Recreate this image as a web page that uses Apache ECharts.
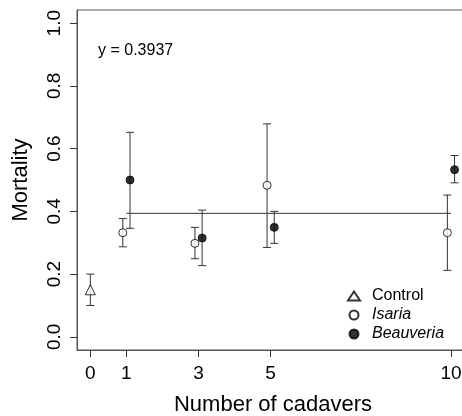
<!DOCTYPE html>
<html><head><meta charset="utf-8">
<script src="https://cdn.jsdelivr.net/npm/echarts@6/dist/echarts.min.js"></script>
<style>html,body{margin:0;padding:0;background:#fff}#c{width:462px;height:416px}</style>
</head><body><div id="c"></div>
<script>
var xTicks = [0, 1, 3, 5, 10];
var yTicks = [0, 0.2, 0.4, 0.6, 0.8, 1.0];
var controlX = [0];
var controlY = [0.15];
var controlLo = [0.10];
var controlHi = [0.20];
var isariaX = [0.9, 2.9, 4.9, 9.9];
var isariaY = [0.332, 0.298, 0.483, 0.332];
var isariaLo = [0.287, 0.249, 0.285, 0.212];
var isariaHi = [0.377, 0.349, 0.679, 0.452];
var beauveriaX = [1.1, 3.1, 5.1, 10.1];
var beauveriaY = [0.500, 0.315, 0.349, 0.533];
var beauveriaLo = [0.346, 0.227, 0.298, 0.491];
var beauveriaHi = [0.652, 0.404, 0.400, 0.578];
var fitValue = 0.3937;
var fitX = [1, 10];

function pts(xs, ys) { return xs.map(function (x, i) { return [x, ys[i]]; }); }
var errData = [];
[[controlX, controlLo, controlHi], [isariaX, isariaLo, isariaHi], [beauveriaX, beauveriaLo, beauveriaHi]].forEach(function (g) {
  g[0].forEach(function (x, i) { errData.push([x, g[1][i], g[2][i]]); });
});

var FONT = 'Liberation Sans';
var chart = echarts.init(document.getElementById('c'), null, { renderer: 'canvas' });
chart.setOption({
  animation: false,
  textStyle: { fontFamily: FONT },
  grid: { left: 77, top: 10, bottom: 66, right: -7, containLabel: false, outerBoundsMode: 'none',
    show: true, borderColor: '#555', borderWidth: 1, backgroundColor: 'transparent' },
  xAxis: {
    type: 'value', min: -0.37, max: 10.5,
    axisLine: { show: true, onZero: false, lineStyle: { color: '#555', width: 1 } },
    splitLine: { show: false },
    axisTick: { show: true, inside: false, length: 7, lineStyle: { color: '#333' }, customValues: xTicks },
    axisLabel: { customValues: xTicks, fontSize: 19, color: '#000', margin: 14, fontFamily: FONT },
    name: 'Number of cadavers', nameLocation: 'middle', nameGap: 44,
    nameTextStyle: { fontSize: 22, color: '#000', fontFamily: FONT }
  },
  yAxis: {
    type: 'value', min: -0.042, max: 1.042,
    axisLine: { show: true, onZero: false, lineStyle: { color: '#555', width: 1 } },
    splitLine: { show: false },
    axisTick: { show: true, inside: false, length: 7, lineStyle: { color: '#333' }, customValues: yTicks },
    axisLabel: { customValues: yTicks, rotate: 90, fontSize: 19, color: '#000', margin: 13, fontFamily: FONT,
      formatter: function (v) { return v.toFixed(1); } },
    name: 'Mortality', nameLocation: 'middle', nameGap: 45, nameRotate: 90,
    nameTextStyle: { fontSize: 22, color: '#000', fontFamily: FONT }
  },
  legend: {
    orient: 'vertical', left: 342, top: 283, itemWidth: 12, itemHeight: 9, itemGap: 3,
    data: ['Control', 'Isaria', 'Beauveria'],
    textStyle: { fontSize: 16, color: '#000', fontFamily: FONT, padding: [0, 0, 0, 7],
      rich: { i: { fontStyle: 'italic', fontSize: 16, fontFamily: FONT } } },
    formatter: function (n) { return n === 'Control' ? n : '{i|' + n + '}'; }
  },
  graphic: [{ type: 'text', left: 98, top: 43, style: { text: 'y = 0.3937', fontSize: 16, fontFamily: FONT, fill: '#000' } }],
  series: [
    { name: 'fit', type: 'line', data: fitX.map(function (x) { return [x, fitValue]; }), symbol: 'none',
      lineStyle: { color: '#333', width: 1 }, silent: true, z: 1 },
    { name: 'err', type: 'custom', data: errData, z: 2,
      renderItem: function (params, api) {
        var x = api.value(0);
        var lo = api.coord([x, api.value(1)]);
        var hi = api.coord([x, api.value(2)]);
        var w = 4;
        var st = { stroke: '#333', lineWidth: 1 };
        return { type: 'group', children: [
          { type: 'line', shape: { x1: lo[0], y1: lo[1], x2: hi[0], y2: hi[1] }, style: st },
          { type: 'line', shape: { x1: lo[0] - w, y1: lo[1], x2: lo[0] + w, y2: lo[1] }, style: st },
          { type: 'line', shape: { x1: hi[0] - w, y1: hi[1], x2: hi[0] + w, y2: hi[1] }, style: st }
        ] };
      } },
    { name: 'Control', type: 'scatter', data: pts(controlX, controlY), symbol: 'triangle', symbolSize: 10, z: 3,
      itemStyle: { color: '#fff', borderColor: '#000', borderWidth: 1 } },
    { name: 'Isaria', type: 'scatter', data: pts(isariaX, isariaY), symbol: 'circle', symbolSize: 8, z: 3,
      itemStyle: { color: '#fff', borderColor: '#000', borderWidth: 1 } },
    { name: 'Beauveria', type: 'scatter', data: pts(beauveriaX, beauveriaY), symbol: 'circle', symbolSize: 8, z: 3,
      itemStyle: { color: '#000', borderColor: '#000', borderWidth: 1 } }
  ]
});
</script></body></html>
